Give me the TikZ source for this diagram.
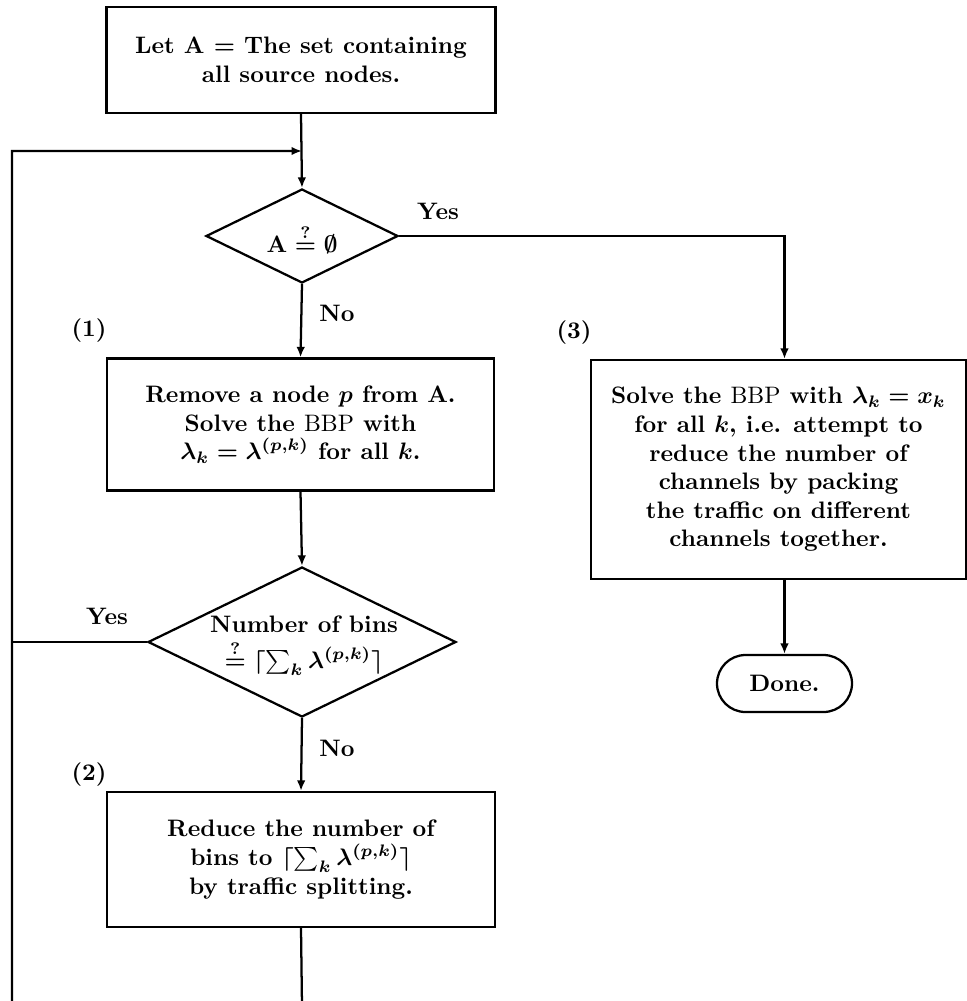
\documentclass[tikz,border=0pt]{standalone}
\usepackage{amsmath}
\usetikzlibrary{arrows.meta,shapes.geometric,shapes.misc}
\newcommand\pxlen{0.42pt}
\begin{document}
\begin{tikzpicture}[x=0.42pt,y=-0.42pt,
  line width=0.95pt,
  every node/.style={font=\bfseries\boldmath},
  procbox/.style={draw,rectangle,align=center,inner sep=0pt},
  decision/.style={draw,diamond,inner sep=0pt},
  txt/.style={align=center,inner sep=0pt},
  terminal/.style={draw,rounded rectangle,inner sep=0pt},
  arr/.style={-{Latex[length=4.4pt,width=3.6pt]}},
  tag/.style={inner sep=0pt}]
\clip (0,0) rectangle (967,1001);

% process boxes
\node[procbox,minimum width={389*\pxlen},minimum height={106*\pxlen}] (start) at (301,60)
  {Let $\mathbf{A}$ = The set containing\\all source nodes.};
\node[procbox,minimum width={387*\pxlen},minimum height={132*\pxlen}] (remove) at (300.5,424.5)
  {Remove a node $p$ from $\mathbf{A}$.\\Solve the {\mdseries BBP} with\\$\lambda_k=\lambda^{(p,k)}$ for all $k$.};
\node[procbox,minimum width={388*\pxlen},minimum height={135*\pxlen}] (reduce) at (301,859.5)
  {Reduce the number of\\bins to $\lceil\sum_k\lambda^{(p,k)}\rceil$\\by traffic splitting.};
\node[procbox,minimum width={375*\pxlen},minimum height={219*\pxlen}] (pack) at (778.5,469.5)
  {Solve the {\mdseries BBP} with $\lambda_k=x_k$\\for all $k$, i.e. attempt to\\reduce the number of\\channels by packing\\the traffic on different\\channels together.};

% decisions
\node[decision,minimum width={192*\pxlen},minimum height={94*\pxlen}] (empty) at (302,236) {};
\node[txt] (emptytxt) at (302,239) {$\mathbf{A}\stackrel{?}{=}\emptyset$};
\node[decision,minimum width={308*\pxlen},minimum height={150*\pxlen}] (bins) at (302,642) {};
\node[txt] (binstxt) at (304,646) {Number of bins\\[3pt]$\stackrel{?}{=}\lceil\sum_k\lambda^{(p,k)}\rceil$};

% terminal
\node[terminal,minimum width={135*\pxlen},minimum height={57*\pxlen}] (done) at (784.5,683.5) {Done.};

% branch labels and step numbers
\node[tag] (yes1) at (438,211) {Yes};
\node[tag] (no1) at (337,313) {No};
\node[tag] (yes2) at (107,616) {Yes};
\node[tag] (no2) at (337,748) {No};
\node[tag] (s1) at (89,331) {(1)};
\node[tag] (s2) at (89,775) {(2)};
\node[tag] (s3) at (574,333) {(3)};

% loop-back route
\coordinate (merge) at (302,151);
\coordinate (loopR) at (302,1006);
\coordinate (loopL) at (12,1006);

% connectors
\draw[arr] (start.south) -- (empty.north);
\draw[arr] (empty.south) -- (remove.north);
\draw[arr] (remove.south) -- (bins.north);
\draw[arr] (bins.south) -- (reduce.north);
\draw[arr] (empty.east) -| (done.north |- pack.north);
\draw[arr] (pack.south -| done.north) -- (done.north);
\draw[arr] (reduce.south) -- (loopR) -- (loopL) -- (merge -| loopL) -- (merge);
\draw (bins.west) -- (bins.west -| loopL);
\end{tikzpicture}
\end{document}
